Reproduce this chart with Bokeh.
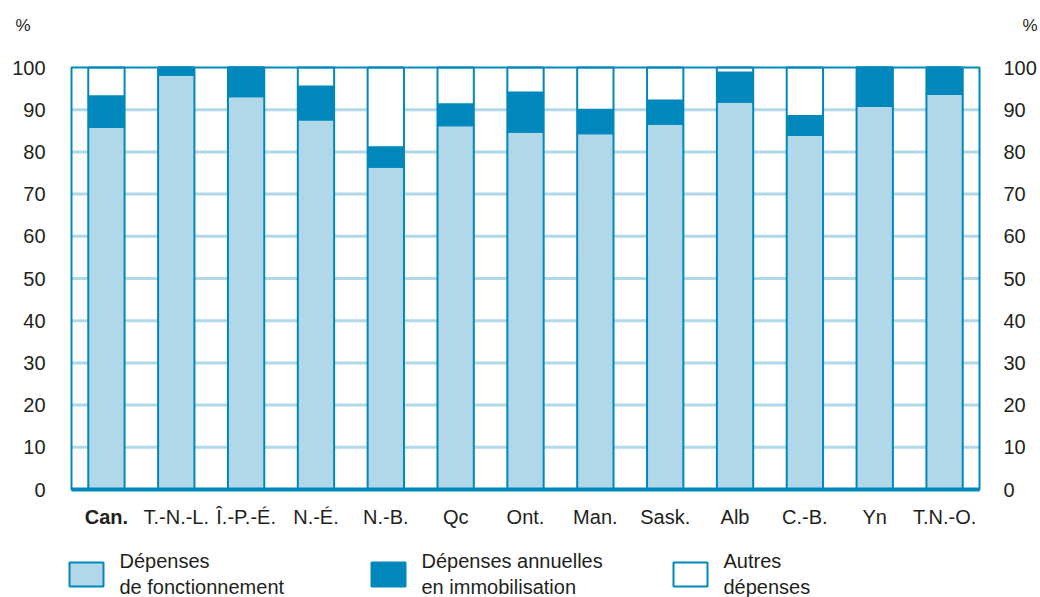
from bokeh.plotting import figure
from bokeh.models import Range1d, ColumnDataSource
from bokeh.core.properties import value, field
from bokeh.embed import file_html
from bokeh.resources import INLINE

# ---------------- data ----------------
categories = ["Can.", "T.-N.-L.", "Î.-P.-É.", "N.-É.", "N.-B.", "Qc", "Ont.",
              "Man.", "Sask.", "Alb", "C.-B.", "Yn", "T.N.-O."]
fonctionnement = [85.9, 98.3, 93.2, 87.7, 76.5, 86.3, 84.8, 84.4, 86.7, 91.9, 84.0, 90.9, 93.7]
immobilisation = [7.3, 1.7, 6.8, 7.8, 4.6, 5.0, 9.3, 5.6, 5.5, 6.9, 4.5, 9.1, 6.3]
autres = [6.8, 0.0, 0.0, 4.5, 18.9, 8.7, 5.9, 10.0, 7.8, 1.2, 11.5, 0.0, 0.0]
y_ticks = [0, 10, 20, 30, 40, 50, 60, 70, 80, 90, 100]
legend_labels = ["Dépenses\nde fonctionnement", "Dépenses annuelles\nen immobilisation",
                 "Autres\ndépenses"]
unit_label = "%"

# ---------------- style / layout ----------------
LIGHT = "#b0d8e8"
DARK = "#0088bd"
TEXT = "#231f20"
FONT = value("Liberation Sans")
FS = value("20px")
W, H = 1040, 597
FL, FR, FT, FB = 71, 979, 67, 489          # chart frame in pixels

n = len(categories)
pos = list(range(n))
x_lo, x_hi = -0.5, n - 0.5
y_lo, y_hi = y_ticks[0], y_ticks[-1]
xu = (FR - FL) / (x_hi - x_lo)
yu = (FB - FT) / (y_hi - y_lo)

p = figure(width=W, height=H,
           x_range=Range1d(x_lo - FL / xu, x_hi + (W - FR) / xu),
           y_range=Range1d(y_lo - (H - FB) / yu, y_hi + FT / yu),
           min_border=0, x_axis_type=None, y_axis_type=None, title=None,
           output_backend="svg", toolbar_location=None)
p.outline_line_color = None
p.extra_x_ranges = {"px": Range1d(0, W)}
p.extra_y_ranges = {"px": Range1d(H, 0)}

# horizontal grid lines
grid_vals = y_ticks[1:-1]
p.segment(x0=x_lo, x1=x_hi, y0=grid_vals, y1=grid_vals,
          line_color=LIGHT, line_width=3)

# stacked bars
source = ColumnDataSource(dict(pos=pos, cat=categories, f=fonctionnement,
                               i=immobilisation, a=autres,
                               style=["bold"] + ["normal"] * (n - 1)))
renderers = p.vbar_stack(["f", "i", "a"], x="pos", width=0.52, source=source,
                         fill_color=[LIGHT, DARK, "white"], line_color=DARK,
                         line_width=2)

# chart frame and bottom axis line
p.quad(left=x_lo, right=x_hi, bottom=y_lo, top=y_hi, fill_color=None,
       line_color=DARK, line_width=2)
p.segment(x0=x_lo, x1=x_hi, y0=y_lo, y1=y_lo, line_color=DARK, line_width=4)

# y tick labels, left and right
tick_text = [str(t) for t in y_ticks]
p.text(x=FL - 26, y=y_ticks, text=tick_text, x_range_name="px",
       text_font=FONT, text_font_size=FS, text_color=TEXT,
       text_align="right", text_baseline="middle")
p.text(x=FR + 24, y=y_ticks, text=tick_text, x_range_name="px",
       text_font=FONT, text_font_size=FS, text_color=TEXT,
       text_align="left", text_baseline="middle")

# category labels
p.text(x="pos", y=FB + 16, text="cat", source=source, y_range_name="px",
       text_font=FONT, text_font_size=FS, text_color=TEXT,
       text_font_style=field("style"), text_align="center", text_baseline="top")

# unit labels
p.text(x=[15, 1022], y=25, text=[unit_label, unit_label],
       x_range_name="px", y_range_name="px", text_font=FONT,
       text_font_size=value("17px"), text_color=TEXT,
       text_align="left", text_baseline="middle")

# legend
sw_left = [69, 371, 673]
p.quad(left=sw_left, right=[v + 34 for v in sw_left], top=562, bottom=586,
       fill_color=[LIGHT, DARK, "white"], line_color=DARK, line_width=2,
       x_range_name="px", y_range_name="px")
p.text(x=[v + 50 for v in sw_left], y=549, text=legend_labels,
       x_range_name="px", y_range_name="px", text_font=FONT, text_font_size=FS,
       text_color=TEXT, text_align="left", text_baseline="top",
       text_line_height=1.2)

open("out.html", "w").write(file_html(p, INLINE))
